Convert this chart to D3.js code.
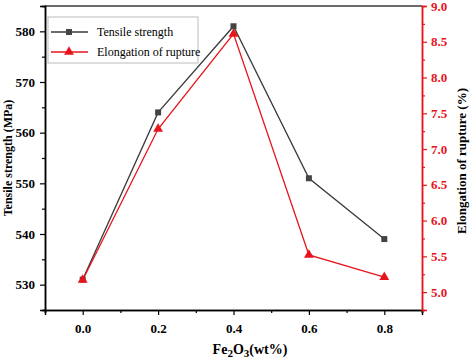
<!DOCTYPE html>
<html>
<head>
    <meta charset="utf-8">
    <script type="text/javascript" src="https://d3js.org/d3.v7.min.js"></script>
    <style>
        body { margin: 0; background: #fff; }
        svg { display: block; }
        text { font-family: "Liberation Serif", "Times New Roman", serif; }
    </style>
</head>
<body>
<script type="text/javascript">
    var w = 472;
    var h = 360;

    // data
    var fe2o3 = [0.0, 0.2, 0.4, 0.6, 0.8];
    var tensile = [531, 564, 581, 551, 539];
    var elongation = [5.17, 7.28, 8.61, 5.52, 5.21];
    var xTicks = [0.0, 0.2, 0.4, 0.6, 0.8];
    var leftTicks = [530, 540, 550, 560, 570, 580];
    var rightTicks = [5.0, 5.5, 6.0, 6.5, 7.0, 7.5, 8.0, 8.5, 9.0];

    // plot frame (note: "top" is reserved on window, so use other names)
    var plotL = 45, plotR = 422, plotT = 6, plotB = 310;
    var red = "#e8141b";
    var grey = "#3a3a3a";

    var svg = d3.select("body").append("svg")
        .attr("width", w)
        .attr("height", h);

    var x = d3.scaleLinear().domain([-0.1, 0.9]).range([plotL, plotR]);
    var yL = d3.scaleLinear().domain([525, 585]).range([plotB, plotT]);
    var yR = d3.scaleLinear().domain([4.75, 9.0]).range([plotB, plotT]);

    // top border
    svg.append("line")
        .attr("x1", plotL).attr("x2", plotR)
        .attr("y1", plotT).attr("y2", plotT)
        .attr("stroke", grey).attr("stroke-width", 1.5);

    function styleAxis(g, color) {
        g.selectAll("path").attr("stroke", color).attr("stroke-width", 1.5);
        g.selectAll("line").attr("stroke", color).attr("stroke-width", 1.2);
        g.selectAll("text")
            .attr("fill", color)
            .style("font-size", "13px")
            .style("font-weight", "bold")
            .style("font-family", "'Liberation Serif', serif");
    }

    // x axis: minor then major
    var xMinor = svg.append("g")
        .attr("transform", "translate(0," + plotB + ")")
        .call(d3.axisBottom(x).tickValues([-0.1, 0.1, 0.3, 0.5, 0.7, 0.9]).tickSize(3).tickFormat(""));
    styleAxis(xMinor, "#000");
    var xAxis = svg.append("g")
        .attr("transform", "translate(0," + plotB + ")")
        .call(d3.axisBottom(x).tickValues(xTicks).tickSize(5).tickPadding(9).tickFormat(d3.format(".1f")));
    styleAxis(xAxis, "#000");

    // left axis
    var lMinor = svg.append("g")
        .attr("transform", "translate(" + plotL + ",0)")
        .call(d3.axisLeft(yL).tickValues([525, 535, 545, 555, 565, 575, 585]).tickSize(3).tickFormat(""));
    styleAxis(lMinor, "#000");
    var lAxis = svg.append("g")
        .attr("transform", "translate(" + plotL + ",0)")
        .call(d3.axisLeft(yL).tickValues(leftTicks).tickSize(5).tickPadding(5));
    styleAxis(lAxis, "#000");

    // right axis
    var rMinor = svg.append("g")
        .attr("transform", "translate(" + plotR + ",0)")
        .call(d3.axisRight(yR).tickValues([4.75, 5.25, 5.75, 6.25, 6.75, 7.25, 7.75, 8.25, 8.75]).tickSize(3).tickFormat(""));
    styleAxis(rMinor, red);
    var rAxis = svg.append("g")
        .attr("transform", "translate(" + plotR + ",0)")
        .call(d3.axisRight(yR).tickValues(rightTicks).tickSize(5).tickPadding(4).tickFormat(d3.format(".1f")));
    styleAxis(rAxis, red);

    // axis titles
    svg.append("text")
        .attr("transform", "translate(12,158) rotate(-90)")
        .attr("text-anchor", "middle")
        .style("font-size", "12px").style("font-weight", "bold")
        .text("Tensile strength (MPa)");

    svg.append("text")
        .attr("transform", "translate(466,161) rotate(-90)")
        .attr("text-anchor", "middle")
        .style("font-size", "13px").style("font-weight", "bold")
        .text("Elongation of rupture (%)");

    var xt = svg.append("text")
        .attr("x", 250)
        .attr("y", 354)
        .attr("text-anchor", "middle")
        .style("font-size", "14px").style("font-weight", "bold");
    xt.append("tspan").text("Fe");
    xt.append("tspan").attr("dy", 3).style("font-size", "11px").text("2");
    xt.append("tspan").attr("dy", -3).text("O");
    xt.append("tspan").attr("dy", 3).style("font-size", "11px").text("3");
    xt.append("tspan").attr("dy", -3).text("(wt%)");

    // lines
    var lineL = d3.line().x(function(d, i) { return x(fe2o3[i]); }).y(function(d) { return yL(d); });
    var lineR = d3.line().x(function(d, i) { return x(fe2o3[i]); }).y(function(d) { return yR(d); });

    svg.append("path").datum(tensile)
        .attr("d", lineL).attr("fill", "none")
        .attr("stroke", grey).attr("stroke-width", 1.3);
    svg.append("path").datum(elongation)
        .attr("d", lineR).attr("fill", "none")
        .attr("stroke", red).attr("stroke-width", 1.3);

    var sq = d3.symbol().type(d3.symbolSquare).size(36);
    var tri = d3.symbol().type(d3.symbolTriangle).size(42);

    svg.selectAll(".sq").data(tensile).enter().append("path")
        .attr("class", "sq")
        .attr("d", sq)
        .attr("transform", function(d, i) { return "translate(" + x(fe2o3[i]) + "," + yL(d) + ")"; })
        .attr("fill", "#444");

    svg.selectAll(".tri").data(elongation).enter().append("path")
        .attr("class", "tri")
        .attr("d", tri)
        .attr("transform", function(d, i) { return "translate(" + x(fe2o3[i]) + "," + yR(d) + ")"; })
        .attr("fill", red);

    // legend
    var legend = svg.append("g").attr("transform", "translate(48,17)");
    legend.append("rect")
        .attr("width", 150).attr("height", 46)
        .attr("fill", "#fff").attr("stroke", "#bbb").attr("stroke-width", 1);

    var entries = [
        { label: "Tensile strength", color: grey, sym: sq, fill: "#444" },
        { label: "Elongation of rupture", color: red, sym: tri, fill: red }
    ];
    var item = legend.selectAll(".item").data(entries).enter().append("g")
        .attr("transform", function(d, i) { return "translate(0," + (15 + i * 20) + ")"; });
    item.append("line")
        .attr("x1", 3).attr("x2", 40)
        .attr("stroke", function(d) { return d.color; }).attr("stroke-width", 1.3);
    item.append("path")
        .attr("d", function(d) { return d.sym(); })
        .attr("transform", "translate(21,0)")
        .attr("fill", function(d) { return d.fill; });
    item.append("text")
        .attr("x", 49).attr("y", 4)
        .style("font-size", "12px")
        .text(function(d) { return d.label; });
</script>
</body>
</html>
